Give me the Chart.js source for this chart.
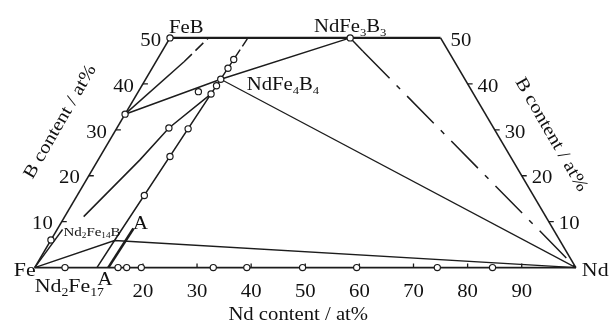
<!DOCTYPE html>
<html><head><meta charset="utf-8">
<script src="https://cdn.jsdelivr.net/npm/chart.js@4.4.0/dist/chart.umd.min.js"></script>
<style>html,body{margin:0;padding:0;background:#fff;}canvas{display:block;}</style>
</head><body>
<canvas id="c" width="612" height="329"></canvas>
<script>
// All compositions are [Nd at%, B at%] (Fe = balance)
const ndTickValues = [20, 30, 40, 50, 60, 70, 80, 90];
const ndTickLabels = ['20', '30', '40', '50', '60', '70', '80', '90'];
const bTickValues = [10, 20, 30, 40, 50];
const bTickLabels = ['10', '20', '30', '40', '50'];

// vertices / phases
const feVertex = [0, 0];
const ndVertex = [100, 0];
const feB = [0, 50];
const topRight = [50, 50];
const fe2B = [0, 33.4];
const ndFe4B4 = [13.88, 41.0];
const ndFe3B3 = [33.3, 50];
const nd2Fe14B = [11.8, 5.9];

// lines
const leftEdge = [feVertex, feB];
const topEdge = [feB, topRight];
const rightEdge = [topRight, ndVertex];
const bottomEdge = [feVertex, ndVertex];
const fe2BToNdFe3B3 = [fe2B, ndFe4B4, ndFe3B3];
const fe2BUpSolid = [fe2B, [5.2, 44.8]];
const fe2BUpDashed = [[5.2, 44.8], [7.1, 50]];
const lineASolid = [[11.5, 0], nd2Fe14B, [14.15, 45.8]];
const lineADashed = [[14.15, 45.8], [14.4, 50]];
const lineAShort = [[13.6, 0], [14.0, 8.5]];
const tieFeNd = [feVertex, nd2Fe14B, ndVertex];
const ndFe4B4ToNd = [ndFe4B4, ndVertex];
const ndFe3B3ToNdSolid = [ndFe3B3, [37.1, 47.1]];
const ndFe3B3ToNdDashDot = [[37.1, 47.1], ndVertex];
const curveL1 = [[3.5, 11.1], [7.7, 23.4], [9.6, 30.4], [13.7, 37.8]];
const feShort = [feVertex, [1.0, 8.3]];

// open circles (measured alloys / phases)
const binaryNd = [5.6, 15.4, 17.0, 19.7, 33.0, 39.2, 49.5, 59.5, 74.4, 84.6];
const ternaryPoints = [
  [0, 6.0], fe2B, feB, ndFe3B3, ndFe4B4,
  [12.41, 15.7], [12.90, 24.2], [13.25, 30.2], [13.69, 37.8], [13.80, 39.6],
  [14.02, 43.4], [14.13, 45.3], [9.6, 30.4], [11.1, 38.3]
];

// composition -> chart coordinates of an equilateral ternary
function P(c) { return { x: c[0] + c[1] / 2, y: c[1] }; }

const INK = '#1c1c1c';
function L(name, pts, w, dash) {
  return {
    label: name, data: pts.map(P), showLine: true, pointRadius: 0,
    borderColor: INK, borderWidth: w, borderDash: dash || [], fill: false, tension: 0
  };
}

const circles = binaryNd.map(n => [n, 0]).concat(ternaryPoints);

const datasets = [
  { label: 'points', data: circles.map(P), showLine: false, pointRadius: 3.1,
    pointStyle: 'circle', pointBackgroundColor: '#fff', pointBorderColor: INK, pointBorderWidth: 1.2 },
  L('left edge', leftEdge, 1.6),
  L('top edge', topEdge, 2.3),
  L('right edge', rightEdge, 1.6),
  L('bottom edge', bottomEdge, 1.6),
  L('Fe2B-NdFe4B4-NdFe3B3', fe2BToNdFe3B3, 1.5),
  L('Fe2B up', fe2BUpSolid, 1.5),
  L('Fe2B up dashed', fe2BUpDashed, 1.5, [11, 5]),
  L('A line', lineASolid, 1.5),
  L('A line dashed', lineADashed, 1.5, [9, 4]),
  L('A short', lineAShort, 2.6),
  L('tie Fe-Nd2Fe14B-Nd', tieFeNd, 1.4),
  L('NdFe4B4-Nd', ndFe4B4ToNd, 1.2),
  L('NdFe3B3-Nd', ndFe3B3ToNdSolid, 1.5),
  L('NdFe3B3-Nd dash-dot', ndFe3B3ToNdDashDot, 1.5, [38, 10, 5, 10]),
  L('curve', curveL1, 1.5),
  L('Fe short', feShort, 1.4)
];

const SX = 1.15;
const FONT = '"Liberation Serif", "Times New Roman", serif';

function txt(ctx, s, x, y, size, align, base, rot) {
  ctx.save();
  ctx.translate(x, y);
  if (rot) ctx.rotate(rot);
  ctx.scale(SX, 1);
  ctx.font = size + 'px ' + FONT;
  ctx.textAlign = align; ctx.textBaseline = base;
  ctx.fillStyle = '#111';
  ctx.fillText(s, 0, 0);
  ctx.restore();
}
function chem(ctx, parts, x, y, size, align) {
  ctx.save();
  ctx.translate(x, y);
  ctx.scale(SX, 1);
  ctx.fillStyle = '#111';
  ctx.textBaseline = 'alphabetic'; ctx.textAlign = 'left';
  const sub = Math.round(size * 0.62);
  let total = 0;
  parts.forEach(p => { ctx.font = (p[1] ? sub : size) + 'px ' + FONT; total += ctx.measureText(p[0]).width; });
  let cx = align === 'center' ? -total / 2 : align === 'right' ? -total : 0;
  parts.forEach(p => {
    ctx.font = (p[1] ? sub : size) + 'px ' + FONT;
    ctx.fillText(p[0], cx, p[1] ? size * 0.22 : 0);
    cx += ctx.measureText(p[0]).width;
  });
  ctx.restore();
}

const ternaryDecor = {
  id: 'ternaryDecor',
  beforeDatasetsDraw(chart) {
    const ctx = chart.ctx, xs = chart.scales.x, ys = chart.scales.y;
    const pp = c => [xs.getPixelForValue(c[0] + c[1] / 2), ys.getPixelForValue(c[1])];
    ctx.save();
    ctx.strokeStyle = INK; ctx.lineWidth = 1.3;
    ctx.beginPath();
    ndTickValues.forEach(v => { const [x, y] = pp([v, 0]); ctx.moveTo(x, y); ctx.lineTo(x, y - 4); });
    bTickValues.slice(0, 4).forEach(b => {
      let [x, y] = pp([0, b]); ctx.moveTo(x, y); ctx.lineTo(x + 5, y);
      [x, y] = pp([100 - b, b]); ctx.moveTo(x, y); ctx.lineTo(x + 5, y);
    });
    ctx.stroke();
    ctx.restore();
  },
  afterDatasetsDraw(chart) {
    const ctx = chart.ctx, xs = chart.scales.x, ys = chart.scales.y;
    const pp = c => [xs.getPixelForValue(c[0] + c[1] / 2), ys.getPixelForValue(c[1])];
    // bottom tick labels
    ndTickValues.forEach((v, i) => { const [x, y] = pp([v, 0]); txt(ctx, ndTickLabels[i], x, y + 25, 18, 'center', 'middle'); });
    // B tick labels on both slanted edges
    bTickValues.forEach((b, i) => {
      let [x, y] = pp([0, b]); txt(ctx, bTickLabels[i], x - 9, y + 3, 18, 'right', 'middle');
      [x, y] = pp([100 - b, b]); txt(ctx, bTickLabels[i], x + 10, y + 3, 18, 'left', 'middle');
    });
    // axis titles
    let [x, y] = pp([48.7, 0]); txt(ctx, 'Nd content / at%', x, y + 48, 18, 'center', 'middle');
    [x, y] = pp([0, 25]); txt(ctx, 'B content / at%', x - 42, y - 31, 18, 'center', 'middle', -Math.PI / 3);
    [x, y] = pp([75, 25]); txt(ctx, 'B content / at%', x + 43, y - 18, 18, 'center', 'middle', Math.PI / 3);
    // vertex and phase labels
    [x, y] = pp(feVertex); txt(ctx, 'Fe', x + 1, y + 3, 19, 'right', 'middle');
    [x, y] = pp(ndVertex); txt(ctx, 'Nd', x + 6, y + 3, 19, 'left', 'middle');
    [x, y] = pp(feB); chem(ctx, [['FeB', 0]], x - 1, y - 5, 18, 'left');
    [x, y] = pp(ndFe3B3); chem(ctx, [['NdFe', 0], ['3', 1], ['B', 0], ['3', 1]], x, y - 6, 18, 'center');
    [x, y] = pp(ndFe4B4); chem(ctx, [['NdFe', 0], ['4', 1], ['B', 0], ['4', 1]], x + 26, y + 11, 18, 'left');
    [x, y] = pp(nd2Fe14B); chem(ctx, [['Nd', 0], ['2', 1], ['Fe', 0], ['14', 1], ['B', 0]], x - 51, y - 5, 13, 'left');
    [x, y] = pp(feVertex); chem(ctx, [['Nd', 0], ['2', 1], ['Fe', 0], ['17', 1]], x, y + 24, 19, 'left');
    [x, y] = pp([12.6, 0]); txt(ctx, 'A', x + 2, y + 13, 18, 'center', 'middle');
    [x, y] = pp([14.0, 8.5]); txt(ctx, 'A', x + 7, y - 4, 18, 'center', 'middle');
  }
};

new Chart(document.getElementById('c'), {
  type: 'scatter',
  data: { datasets: datasets },
  options: {
    responsive: false, animation: false, devicePixelRatio: 1,
    layout: { padding: 0 },
    plugins: { legend: { display: false }, tooltip: { enabled: false } },
    scales: {
      x: { type: 'linear', min: -5.45, max: 105.72, display: false },
      y: { type: 'linear', min: -12.23, max: 57.12, display: false }
    }
  },
  plugins: [ternaryDecor]
});
</script>
</body></html>
